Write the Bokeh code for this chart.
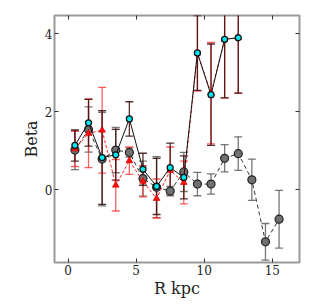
from bokeh.plotting import figure
from bokeh.models import ColumnDataSource, Whisker, TeeHead, LinearAxis, FixedTicker, Range1d
from bokeh.embed import file_html
from bokeh.resources import INLINE

# ---- data ----
r_all = [0.5, 1.5, 2.5, 3.5, 4.5, 5.5, 6.5, 7.5, 8.5, 9.5, 10.5, 11.5, 12.5, 13.5, 14.5, 15.5]
beta_gray = [1.02, 1.55, 0.79, 1.02, 0.96, 0.29, 0.07, -0.03, 0.46, 0.15, 0.15, 0.81, 0.93, 0.26, -1.33, -0.75]
err_gray = [0.5, 0.58, 1.2, 0.58, 0.12, 0.45, 0.78, 0.12, 0.5, 0.3, 0.26, 0.35, 0.43, 0.53, 0.47, 0.74]

r_in = [0.5, 1.5, 2.5, 3.5, 4.5, 5.5, 6.5, 7.5, 8.5, 9.5, 10.5, 11.5, 12.5]
beta_red = [1.05, 1.45, 1.53, 0.12, 0.75, 0.22, -0.22, 0.5, 0.19, 3.51, 2.48, 3.86, 3.9]
err_red = [0.45, 0.88, 1.1, 0.66, 0.35, 0.4, 0.5, 0.6, 0.55, 0.98, 1.3, 1.5, 1.42]
beta_cyan = [1.14, 1.72, 0.83, 0.9, 1.82, 0.53, 0.09, 0.57, 0.32, 3.51, 2.44, 3.86, 3.9]
err_cyan = [0.4, 0.6, 1.2, 0.65, 0.44, 0.41, 0.72, 0.63, 0.55, 0.96, 1.3, 1.5, 1.42]

x_ticks = [0, 5, 10, 15]
y_ticks = [0, 2, 4]

FONT = "DejaVu Serif"

p = figure(width=311, height=300, output_backend="svg", toolbar_location=None,
           x_range=Range1d(-1, 17), y_range=Range1d(-1.86, 4.47),
           min_border_left=54, min_border_right=12, min_border_top=15, min_border_bottom=36)
p.grid.visible = False
p.outline_line_color = "#999999"
p.outline_line_width = 2
p.background_fill_color = "white"
p.border_fill_color = "white"


def src(xs, ys, es):
    return ColumnDataSource(dict(x=xs, y=ys, lo=[a - b for a, b in zip(ys, es)],
                                 hi=[a + b for a, b in zip(ys, es)]))


def whisk(source, color, alpha=1.0):
    w = Whisker(source=source, base="x", upper="hi", lower="lo",
                line_color=color, line_alpha=alpha, line_width=1.3,
                upper_head=TeeHead(size=8, line_color=color, line_alpha=alpha, line_width=1.3),
                lower_head=TeeHead(size=8, line_color=color, line_alpha=alpha, line_width=1.3))
    p.add_layout(w)


s_gray = src(r_all, beta_gray, err_gray)
s_red = src(r_in, beta_red, err_red)
s_cyan = src(r_in, beta_cyan, err_cyan)

# gray series
whisk(s_gray, "#555555", 0.8)
p.line("x", "y", source=s_gray, line_color="#333333", line_dash="4 3", line_width=1)
p.scatter("x", "y", source=s_gray, marker="circle", size=8, fill_color="#707070",
          line_color="#222222", line_width=1.2)

# red series
whisk(s_red, "#ff2a2a", 0.75)
p.line("x", "y", source=s_red, line_color="#ff2020", line_dash="3 2", line_width=1)
p.scatter("x", "y", source=s_red, marker="triangle", size=6.5, fill_color="#ff1010",
          line_color="#dd0000", line_width=0.8)

# cyan series
whisk(s_cyan, "#3a0c0c", 0.85)
p.line("x", "y", source=s_cyan, line_color="#111111", line_width=1)
p.scatter("x", "y", source=s_cyan, marker="circle", size=6, fill_color="#00e8f0",
          line_color="#111111", line_width=1.3)

# axes
for ax in (p.xaxis[0], p.yaxis[0]):
    ax.minor_tick_line_color = None
    ax.major_tick_in = 4
    ax.major_tick_out = 0
    ax.major_tick_line_color = "#333333"
    ax.axis_line_color = None
    ax.major_label_text_font = FONT
    ax.major_label_text_font_size = "12px"
    ax.major_label_text_color = "#222222"
    ax.axis_label_text_font = FONT
    ax.axis_label_text_font_size = "16px"
    ax.axis_label_text_font_style = "normal"
    ax.axis_label_text_color = "#222222"
    ax.major_label_standoff = 2
    ax.axis_label_standoff = 1

p.xaxis[0].ticker = FixedTicker(ticks=x_ticks)
p.yaxis[0].ticker = FixedTicker(ticks=y_ticks)
p.xaxis[0].axis_label = "R kpc"
p.yaxis[0].axis_label = "Beta"

for loc, tk in (("right", y_ticks), ("above", x_ticks)):
    ax = LinearAxis(ticker=FixedTicker(ticks=tk))
    ax.minor_tick_line_color = None
    ax.major_tick_in = 4
    ax.major_tick_out = 0
    ax.major_tick_line_color = "#333333"
    ax.axis_line_color = None
    ax.major_label_overrides = {t: "" for t in tk}
    ax.major_label_standoff = 0
    p.add_layout(ax, loc)

open("out.html", "w").write(file_html(p, INLINE))
